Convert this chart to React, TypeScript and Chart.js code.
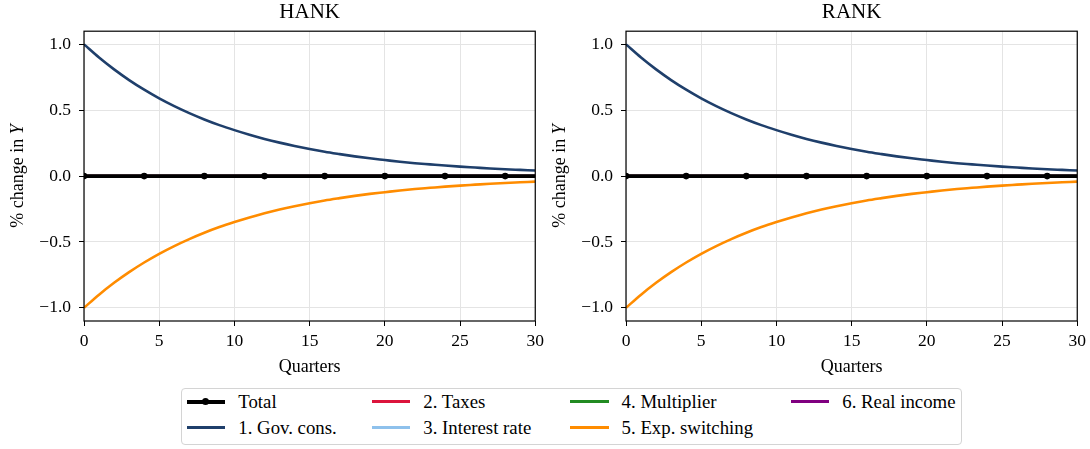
import React, { useEffect, useRef } from "react";
import { Chart, registerables } from "chart.js";

Chart.register(...registerables);

const FONT = "'Liberation Serif', 'Times New Roman', serif";

// ---------- data ----------
const quarters = [0, 1, 2, 3, 4, 5, 6, 7, 8, 9, 10, 11, 12, 13, 14, 15, 16, 17, 18, 19, 20, 21, 22, 23, 24, 25, 26, 27, 28, 29, 30];

const yTickValues = [-1.0, -0.5, 0.0, 0.5, 1.0];
const xTickValues = [0, 5, 10, 15, 20, 25, 30];

const seriesLabels = ["Total", "1. Gov. cons.", "2. Taxes", "3. Interest rate", "4. Multiplier", "5. Exp. switching", "6. Real income"];
const seriesColors = ["#000000", "#1f3f6b", "#dc143c", "#8ec1ec", "#228b22", "#ff8c00", "#800080"];

const hankTotal = [0, 0, 0, 0, 0, 0, 0, 0, 0, 0, 0, 0, 0, 0, 0, 0, 0, 0, 0, 0, 0, 0, 0, 0, 0, 0, 0, 0, 0, 0, 0];
const hankGovCons = [1.0, 0.9, 0.81, 0.729, 0.656, 0.59, 0.531, 0.478, 0.43, 0.387, 0.349, 0.314, 0.282, 0.254, 0.229, 0.206, 0.185, 0.167, 0.15, 0.135, 0.122, 0.109, 0.098, 0.089, 0.08, 0.072, 0.065, 0.058, 0.052, 0.047, 0.042];
const hankTaxes = [0, 0, 0, 0, 0, 0, 0, 0, 0, 0, 0, 0, 0, 0, 0, 0, 0, 0, 0, 0, 0, 0, 0, 0, 0, 0, 0, 0, 0, 0, 0];
const hankInterest = [0, 0, 0, 0, 0, 0, 0, 0, 0, 0, 0, 0, 0, 0, 0, 0, 0, 0, 0, 0, 0, 0, 0, 0, 0, 0, 0, 0, 0, 0, 0];
const hankMultiplier = [0, 0, 0, 0, 0, 0, 0, 0, 0, 0, 0, 0, 0, 0, 0, 0, 0, 0, 0, 0, 0, 0, 0, 0, 0, 0, 0, 0, 0, 0, 0];
const hankExpSwitching = [-1.0, -0.9, -0.81, -0.729, -0.656, -0.59, -0.531, -0.478, -0.43, -0.387, -0.349, -0.314, -0.282, -0.254, -0.229, -0.206, -0.185, -0.167, -0.15, -0.135, -0.122, -0.109, -0.098, -0.089, -0.08, -0.072, -0.065, -0.058, -0.052, -0.047, -0.042];
const hankRealIncome = [0, 0, 0, 0, 0, 0, 0, 0, 0, 0, 0, 0, 0, 0, 0, 0, 0, 0, 0, 0, 0, 0, 0, 0, 0, 0, 0, 0, 0, 0, 0];

const rankTotal = [0, 0, 0, 0, 0, 0, 0, 0, 0, 0, 0, 0, 0, 0, 0, 0, 0, 0, 0, 0, 0, 0, 0, 0, 0, 0, 0, 0, 0, 0, 0];
const rankGovCons = [1.0, 0.9, 0.81, 0.729, 0.656, 0.59, 0.531, 0.478, 0.43, 0.387, 0.349, 0.314, 0.282, 0.254, 0.229, 0.206, 0.185, 0.167, 0.15, 0.135, 0.122, 0.109, 0.098, 0.089, 0.08, 0.072, 0.065, 0.058, 0.052, 0.047, 0.042];
const rankTaxes = [0, 0, 0, 0, 0, 0, 0, 0, 0, 0, 0, 0, 0, 0, 0, 0, 0, 0, 0, 0, 0, 0, 0, 0, 0, 0, 0, 0, 0, 0, 0];
const rankInterest = [0, 0, 0, 0, 0, 0, 0, 0, 0, 0, 0, 0, 0, 0, 0, 0, 0, 0, 0, 0, 0, 0, 0, 0, 0, 0, 0, 0, 0, 0, 0];
const rankMultiplier = [0, 0, 0, 0, 0, 0, 0, 0, 0, 0, 0, 0, 0, 0, 0, 0, 0, 0, 0, 0, 0, 0, 0, 0, 0, 0, 0, 0, 0, 0, 0];
const rankExpSwitching = [-1.0, -0.9, -0.81, -0.729, -0.656, -0.59, -0.531, -0.478, -0.43, -0.387, -0.349, -0.314, -0.282, -0.254, -0.229, -0.206, -0.185, -0.167, -0.15, -0.135, -0.122, -0.109, -0.098, -0.089, -0.08, -0.072, -0.065, -0.058, -0.052, -0.047, -0.042];
const rankRealIncome = [0, 0, 0, 0, 0, 0, 0, 0, 0, 0, 0, 0, 0, 0, 0, 0, 0, 0, 0, 0, 0, 0, 0, 0, 0, 0, 0, 0, 0, 0, 0];

const hankSeries = [hankTotal, hankGovCons, hankTaxes, hankInterest, hankMultiplier, hankExpSwitching, hankRealIncome];
const rankSeries = [rankTotal, rankGovCons, rankTaxes, rankInterest, rankMultiplier, rankExpSwitching, rankRealIncome];

// ---------- plugins ----------
const framePlugin = {
  id: "frame",
  afterDraw(chart: any) {
    const { ctx, chartArea } = chart;
    ctx.save();
    ctx.strokeStyle = "#000";
    ctx.lineWidth = 1.2;
    ctx.strokeRect(chartArea.left, chartArea.top, chartArea.right - chartArea.left, chartArea.bottom - chartArea.top);
    ctx.restore();
  },
};

const yTitlePlugin = {
  id: "yTitle",
  afterDraw(chart: any) {
    const { ctx, chartArea } = chart;
    const x = chartArea.left - 66;
    const y = (chartArea.top + chartArea.bottom) / 2;
    const normal = `18px ${FONT}`;
    const ital = `italic 18px ${FONT}`;
    const t1 = "% change in ";
    const t2 = "Y";
    ctx.save();
    ctx.translate(x, y);
    ctx.rotate(-Math.PI / 2);
    ctx.font = normal;
    const w1 = ctx.measureText(t1).width;
    ctx.font = ital;
    const w2 = ctx.measureText(t2).width;
    const start = -(w1 + w2) / 2;
    ctx.textBaseline = "middle";
    ctx.textAlign = "left";
    ctx.fillStyle = "#000";
    ctx.font = normal;
    ctx.fillText(t1, start, 0);
    ctx.font = ital;
    ctx.fillText(t2, start + w1, 0);
    ctx.restore();
  },
};

function fmtY(v: number) {
  const s = Math.abs(v).toFixed(1);
  return v < -1e-9 ? "\u2212" + s : s;
}

const CANVAS_W = 549;
const CANVAS_H = 386;

function Panel({ title, series, left }: { title: string; series: number[][]; left: number }) {
  const ref = useRef<HTMLCanvasElement | null>(null);
  useEffect(() => {
    if (!ref.current) return;
    const datasets = series.map((vals, i) => ({
      label: seriesLabels[i],
      data: quarters.map((q, j) => ({ x: q, y: vals[j] })),
      borderColor: seriesColors[i],
      backgroundColor: seriesColors[i],
      borderWidth: i === 0 ? 3.6 : 2.6,
      pointRadius: i === 0 ? (c: any) => (c.dataIndex % 4 === 0 ? 3.3 : 0) : 0,
      pointBorderWidth: 0,
      pointHoverRadius: 0,
      cubicInterpolationMode: "monotone",
      fill: false,
      clip: 0,
      order: i === 0 ? 0 : 1,
    }));
    const chart = new Chart(ref.current, {
      type: "line",
      data: { datasets },
      plugins: [framePlugin, yTitlePlugin],
      options: {
        animation: false,
        responsive: false,
        events: [],
        layout: { padding: { left: 0, right: 0, top: 0, bottom: 0 } },
        plugins: {
          legend: { display: false },
          tooltip: { enabled: false },
          title: {
            display: true,
            text: title,
            fullSize: false,
            color: "#000",
            font: { family: FONT, size: 21, weight: "normal" },
            padding: { top: 0, bottom: 6 },
          },
        },
        scales: {
          x: {
            type: "linear",
            min: 0,
            max: 30,
            afterBuildTicks: (s: any) => {
              s.ticks = xTickValues.map((v) => ({ value: v }));
            },
            afterFit: (s: any) => {
              s.height = 65;
            },
            ticks: {
              color: "#000",
              font: { family: FONT, size: 17.5 },
              padding: 5,
              maxRotation: 0,
              autoSkip: false,
              callback: (v: any) => String(v),
            },
            grid: { color: "#e4e4e4", lineWidth: 1, tickColor: "#000", tickLength: 5, drawTicks: true },
            border: { display: false },
            title: {
              display: true,
              text: "Quarters",
              color: "#000",
              font: { family: FONT, size: 18 },
              padding: { top: 0, bottom: 8 },
            },
          },
          y: {
            type: "linear",
            min: -1.1,
            max: 1.1,
            afterBuildTicks: (s: any) => {
              s.ticks = yTickValues.map((v) => ({ value: v }));
            },
            afterFit: (s: any) => {
              s.width = 84;
            },
            ticks: {
              color: "#000",
              font: { family: FONT, size: 17.5 },
              padding: 8,
              autoSkip: false,
              callback: (v: any) => fmtY(Number(v)),
            },
            grid: { color: "#e4e4e4", lineWidth: 1, tickColor: "#000", tickLength: 5, drawTicks: true },
            border: { display: false },
          },
        },
      } as any,
    });
    return () => chart.destroy();
  }, [title, series]);
  return (
    <canvas
      ref={ref}
      width={CANVAS_W}
      height={CANVAS_H}
      style={{ position: "absolute", left, top: 0, width: CANVAS_W, height: CANVAS_H }}
    />
  );
}

const legendOrder = [0, 1, 2, 3, 4, 5, 6];
const legendColX = [186.7, 371.7, 570, 790.7];
const legendRowY = [401.7, 427.7];

function Legend() {
  return (
    <div>
      <div
        style={{
          position: "absolute",
          left: 181,
          top: 388,
          width: 781,
          height: 57,
          border: "1px solid #d4d4d4",
          borderRadius: 4,
          boxSizing: "border-box",
          background: "#fff",
        }}
      />
      {legendOrder.map((si, k) => {
        const col = Math.floor(k / 2);
        const row = k % 2;
        const x = legendColX[col];
        const y = legendRowY[row];
        return (
          <div key={si}>
            <div
              style={{
                position: "absolute",
                left: x,
                top: y - 1.5,
                width: 38.5,
                height: si === 0 ? 3.6 : 3,
                background: seriesColors[si],
              }}
            />
            {si === 0 && (
              <div
                style={{
                  position: "absolute",
                  left: x + 19.25 - 3.5,
                  top: y - 3.3,
                  width: 7,
                  height: 7,
                  borderRadius: "50%",
                  background: "#000",
                }}
              />
            )}
            <div
              style={{
                position: "absolute",
                left: x + 51.6,
                top: y - 12,
                height: 24,
                lineHeight: "24px",
                fontFamily: FONT,
                fontSize: 18.8,
                color: "#000",
                whiteSpace: "nowrap",
              }}
            >
              {seriesLabels[si]}
            </div>
          </div>
        );
      })}
    </div>
  );
}

export default function App() {
  return (
    <div style={{ position: "absolute", left: 0, top: 0, width: 1090, height: 449, overflow: "hidden", background: "#fff" }}>
      <Panel title="HANK" series={hankSeries} left={0} />
      <Panel title="RANK" series={rankSeries} left={542} />
      <Legend />
    </div>
  );
}
